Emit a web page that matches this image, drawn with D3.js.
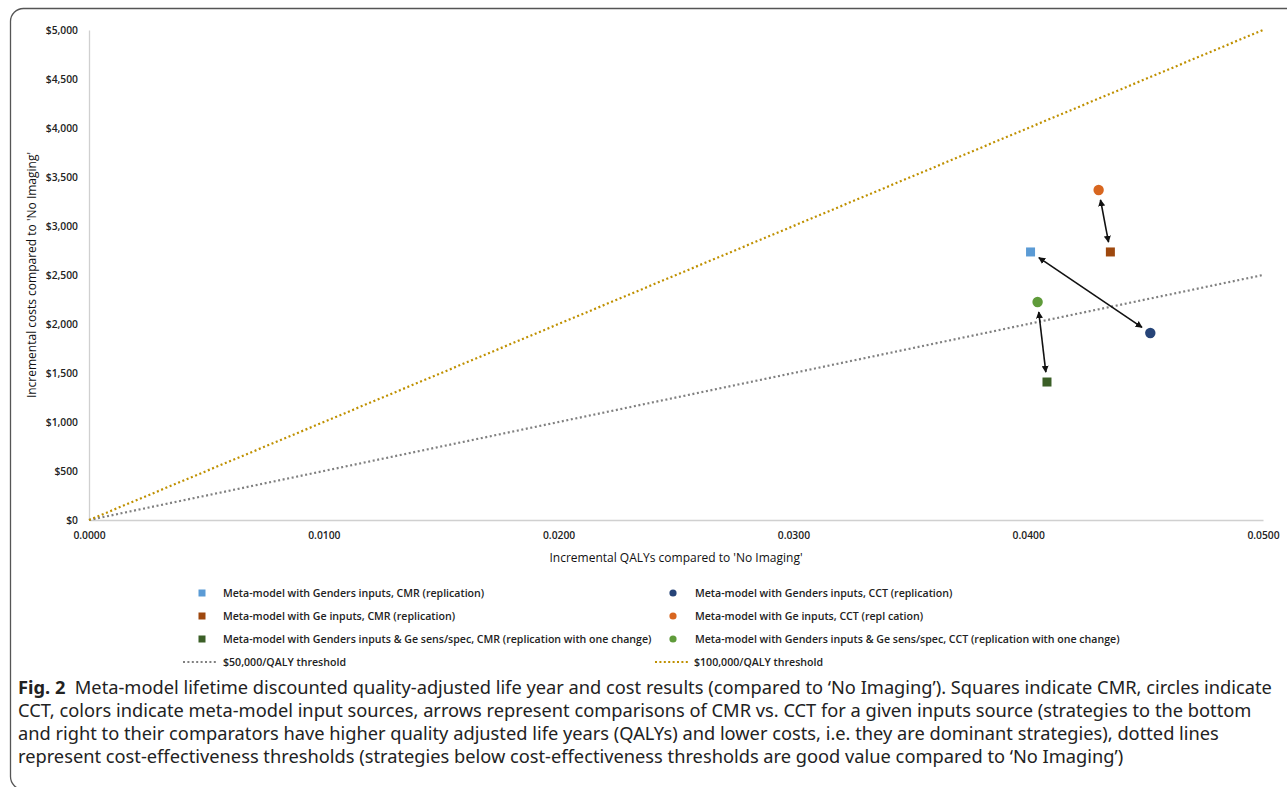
<!DOCTYPE html>
<html>
<head>
<meta charset="utf-8">
<script src="https://cdn.jsdelivr.net/npm/d3@7/dist/d3.min.js"></script>
<style>
    body { margin: 0; background: #fff; }
    .tick-label { font-family: "Open Sans", sans-serif; font-size: 10.3px; font-weight: 600; fill: #222; }
    .axis-title { font-family: "Open Sans", sans-serif; font-size: 12px; fill: #111; }
    .legend-text { font-family: "Open Sans", sans-serif; font-size: 10.6px; font-weight: 600; fill: #222; }
    .caption { font-family: "Noto Sans", sans-serif; font-size: 16px; fill: #222; }
</style>
</head>
<body>
<div id="chart"></div>
<script>

// values
var seriesNames = [
    "Meta-model with Genders inputs, CMR (replication)",
    "Meta-model with Genders inputs, CCT (replication)",
    "Meta-model with Ge inputs, CMR (replication)",
    "Meta-model with Ge inputs, CCT (repl cation)",
    "Meta-model with Genders inputs & Ge sens/spec, CMR (replication with one change)",
    "Meta-model with Genders inputs & Ge sens/spec, CCT (replication with one change)"
];
var qalys = [0.0401, 0.0452, 0.0435, 0.0430, 0.0408, 0.0404];
var costs = [2735, 1908, 2735, 3367, 1408, 2224];
var shapes = ["square", "circle", "square", "circle", "square", "circle"];
var seriesColors = ["#5b9bd5", "#264478", "#9e480e", "#d8661f", "#3b5f27", "#5f9b3a"];

// pairs of CMR vs CCT joined by arrows (indexes into the arrays above)
var arrowPairs = [[0, 1], [2, 3], [4, 5]];

var thresholdNames = ["$50,000/QALY threshold", "$100,000/QALY threshold"];
var thresholdValues = [50000, 100000];
var thresholdColors = ["#808080", "#bf9000"];

var xTicks = [0, 0.01, 0.02, 0.03, 0.04, 0.05];
var xTickLabels = ["0.0000", "0.0100", "0.0200", "0.0300", "0.0400", "0.0500"];
var yTicks = [0, 500, 1000, 1500, 2000, 2500, 3000, 3500, 4000, 4500, 5000];

var captionLines = [
    "Meta-model lifetime discounted quality-adjusted life year and cost results (compared to \u2018No Imaging\u2019). Squares indicate CMR, circles indicate",
    "CCT, colors indicate meta-model input sources, arrows represent comparisons of CMR vs. CCT for a given inputs source (strategies to the bottom",
    "and right to their comparators have higher quality adjusted life years (QALYs) and lower costs, i.e. they are dominant strategies), dotted lines",
    "represent cost-effectiveness thresholds (strategies below cost-effectiveness thresholds are good value compared to \u2018No Imaging\u2019)"
];

/**
 * Constructor for the cost-effectiveness plane
 */
function CostPlane(){
    var self = this;
    self.init();
};

CostPlane.prototype.init = function(){
    var self = this;
    self.width = 1287;
    self.height = 787;
    self.plot = {left: 89, right: 1263, top: 30, bottom: 520};

    self.svg = d3.select("#chart").append("svg")
        .attr("width", self.width)
        .attr("height", self.height);

    //frame round the figure, only top and left edges are in view
    self.svg.append("rect")
        .attr("x", 10.5)
        .attr("y", 8.5)
        .attr("width", 1320)
        .attr("height", 781)
        .attr("rx", 13)
        .attr("fill", "none")
        .attr("stroke", "#555")
        .attr("stroke-width", 1.3);

    self.xScale = d3.scaleLinear()
        .domain([0, 0.05])
        .range([self.plot.left, self.plot.right]);

    self.yScale = d3.scaleLinear()
        .domain([0, 5000])
        .range([self.plot.bottom, self.plot.top]);
};

CostPlane.prototype.drawAxes = function(){
    var self = this;

    var xAxis = d3.axisBottom(self.xScale)
        .tickValues(xTicks)
        .tickSize(0)
        .tickPadding(12)
        .tickFormat(function(d, i){ return xTickLabels[i]; });

    var yAxis = d3.axisLeft(self.yScale)
        .tickValues(yTicks)
        .tickSize(0)
        .tickPadding(11)
        .tickFormat(function(d){ return "$" + d3.format(",")(d); });

    var gx = self.svg.append("g")
        .attr("transform", "translate(0," + self.plot.bottom + ")")
        .call(xAxis);
    var gy = self.svg.append("g")
        .attr("transform", "translate(" + self.plot.left + ",0)")
        .call(yAxis);

    [gx, gy].forEach(function(g){
        g.select(".domain").attr("stroke", "#d0d0d0").attr("stroke-width", 1.3);
        g.selectAll("text").attr("class", "tick-label").attr("font-family", null).attr("font-size", null);
    });
    gy.selectAll("text").attr("dy", "0.35em");

    self.svg.append("text")
        .attr("class", "axis-title")
        .attr("x", (self.plot.left + self.plot.right) / 2)
        .attr("y", 562)
        .attr("text-anchor", "middle")
        .text("Incremental QALYs compared to 'No Imaging'");

    self.svg.append("text")
        .attr("class", "axis-title")
        .attr("transform", "translate(36," + (self.plot.top + self.plot.bottom) / 2 + ") rotate(-90)")
        .attr("text-anchor", "middle")
        .text("Incremental costs compared to 'No Imaging'");
};

CostPlane.prototype.drawThresholds = function(){
    var self = this;
    var maxQ = self.xScale.domain()[1];

    self.svg.selectAll(".threshold")
        .data(thresholdValues)
        .enter()
        .append("line")
        .attr("class", "threshold")
        .attr("x1", self.xScale(0))
        .attr("y1", self.yScale(0))
        .attr("x2", self.xScale(maxQ))
        .attr("y2", function(d){ return self.yScale(d * maxQ); })
        .attr("stroke", function(d, i){ return thresholdColors[i]; })
        .attr("stroke-width", 2.2)
        .attr("stroke-dasharray", "2,2.6");
};

CostPlane.prototype.drawPoints = function(){
    var self = this;

    var defs = self.svg.append("defs");
    defs.append("marker")
        .attr("id", "head")
        .attr("viewBox", "0 0 10 10")
        .attr("refX", 9)
        .attr("refY", 5)
        .attr("markerWidth", 7)
        .attr("markerHeight", 7)
        .attr("markerUnits", "userSpaceOnUse")
        .attr("orient", "auto-start-reverse")
        .append("path")
        .attr("d", "M0,0 L10,5 L0,10 z")
        .attr("fill", "#111");

    //double headed arrows, pulled back from the markers
    var gap = 10;
    arrowPairs.forEach(function(p){
        var x1 = self.xScale(qalys[p[0]]), y1 = self.yScale(costs[p[0]]);
        var x2 = self.xScale(qalys[p[1]]), y2 = self.yScale(costs[p[1]]);
        var len = Math.sqrt((x2 - x1) * (x2 - x1) + (y2 - y1) * (y2 - y1));
        var ux = (x2 - x1) / len, uy = (y2 - y1) / len;
        self.svg.append("line")
            .attr("x1", x1 + ux * gap)
            .attr("y1", y1 + uy * gap)
            .attr("x2", x2 - ux * gap)
            .attr("y2", y2 - uy * gap)
            .attr("stroke", "#111")
            .attr("stroke-width", 1.6)
            .attr("marker-start", "url(#head)")
            .attr("marker-end", "url(#head)");
    });

    var idx = d3.range(seriesNames.length);

    self.svg.selectAll(".pt-square")
        .data(idx.filter(function(i){ return shapes[i] == "square"; }))
        .enter()
        .append("rect")
        .attr("class", "pt-square")
        .attr("x", function(i){ return self.xScale(qalys[i]) - 4.5; })
        .attr("y", function(i){ return self.yScale(costs[i]) - 4.5; })
        .attr("width", 9)
        .attr("height", 9)
        .attr("fill", function(i){ return seriesColors[i]; });

    self.svg.selectAll(".pt-circle")
        .data(idx.filter(function(i){ return shapes[i] == "circle"; }))
        .enter()
        .append("circle")
        .attr("class", "pt-circle")
        .attr("cx", function(i){ return self.xScale(qalys[i]); })
        .attr("cy", function(i){ return self.yScale(costs[i]); })
        .attr("r", 5.2)
        .attr("fill", function(i){ return seriesColors[i]; });
};

CostPlane.prototype.drawLegend = function(){
    var self = this;
    var rowY = [593, 616, 639, 662];
    var colMarker = [202, 673];
    var colText = [223, 695];

    seriesNames.forEach(function(name, i){
        var row = Math.floor(i / 2), col = i % 2;
        if(shapes[i] == "square"){
            self.svg.append("rect")
                .attr("x", colMarker[col] - 3.5)
                .attr("y", rowY[row] - 3.5)
                .attr("width", 7)
                .attr("height", 7)
                .attr("fill", seriesColors[i]);
        } else {
            self.svg.append("circle")
                .attr("cx", colMarker[col])
                .attr("cy", rowY[row])
                .attr("r", 3.6)
                .attr("fill", seriesColors[i]);
        }
        self.svg.append("text")
            .attr("class", "legend-text")
            .attr("x", colText[col])
            .attr("y", rowY[row])
            .attr("dy", "0.35em")
            .text(name);
    });

    var lineX = [[183, 218], [655, 689]];
    var lineText = [223, 694];
    thresholdNames.forEach(function(name, i){
        self.svg.append("line")
            .attr("x1", lineX[i][0])
            .attr("x2", lineX[i][1])
            .attr("y1", rowY[3])
            .attr("y2", rowY[3])
            .attr("stroke", thresholdColors[i])
            .attr("stroke-width", 2)
            .attr("stroke-dasharray", "2,2.4");
        self.svg.append("text")
            .attr("class", "legend-text")
            .attr("x", lineText[i])
            .attr("y", rowY[3])
            .attr("dy", "0.35em")
            .text(name);
    });
};

CostPlane.prototype.drawCaption = function(){
    var self = this;
    var lineY = [694, 717, 740, 763];
    var texts = [];

    captionLines.forEach(function(line, i){
        var t = self.svg.append("text")
            .attr("class", "caption")
            .attr("x", 18)
            .attr("y", lineY[i]);
        if(i == 0){
            t.append("tspan")
                .attr("font-weight", "bold")
                .text("Fig. 2");
            t.append("tspan").text("\u00a0\u00a0" + line);
        } else {
            t.text(line);
        }
        texts.push(t);
    });

    //first line runs almost to the right edge, size the font to that
    var w = texts[0].node().getComputedTextLength();
    var size = 16 * 1254 / w;
    texts.forEach(function(t){ t.style("font-size", size + "px"); });
};

var chart = new CostPlane();
chart.drawAxes();
chart.drawThresholds();
chart.drawPoints();
chart.drawLegend();
chart.drawCaption();

</script>
</body>
</html>
